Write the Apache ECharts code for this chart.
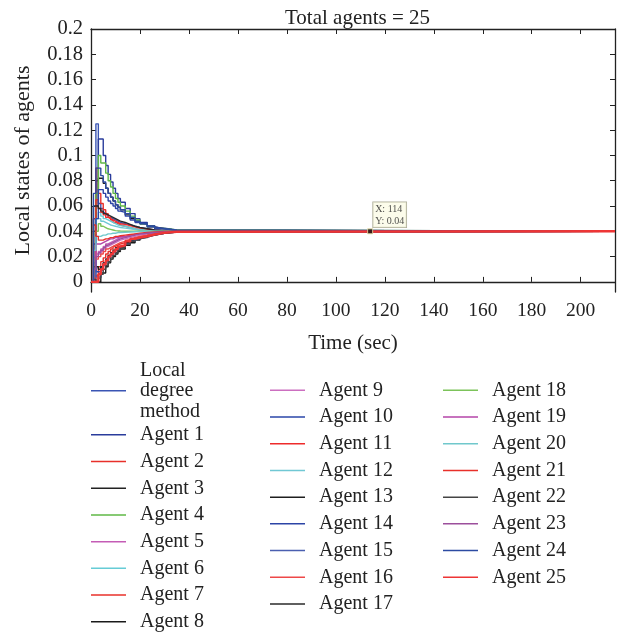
<!DOCTYPE html>
<html>
<head>
<meta charset="utf-8">
<script src="https://cdn.jsdelivr.net/npm/echarts@6/dist/echarts.min.js"></script>
<style>html,body{margin:0;padding:0;background:#fff;}#c{width:621px;height:635px;}</style>
</head>
<body>
<div id="c"></div>
<script>
// ---- data ----
const times = [0, 1, 2, 3, 4, 5, 6, 7, 8, 9, 10, 11, 12, 14, 16, 18, 20, 23, 26, 30, 35, 214];
const localDegree = [0, 0, 0.125, 0.062, 0.058, 0.055, 0.053, 0.051, 0.05, 0.049, 0.048, 0.047, 0.046, 0.045, 0.044, 0.043, 0.042, 0.041, 0.0405, 0.0402, 0.04, 0.04];
const agent1  = [0, 0.05, 0.08, 0.113, 0.113, 0.1, 0.092, 0.085, 0.079, 0.074, 0.07, 0.066, 0.063, 0.058, 0.054, 0.05, 0.047, 0.0445, 0.0425, 0.041, 0.04, 0.04];
const agent2  = [0, 0.03, 0.09, 0.07, 0.062, 0.057, 0.054, 0.051, 0.049, 0.047, 0.046, 0.045, 0.044, 0.043, 0.042, 0.0412, 0.0406, 0.0402, 0.04, 0.04, 0.04, 0.04];
const agent3  = [0, 0.04, 0.06, 0.082, 0.082, 0.078, 0.074, 0.07, 0.067, 0.064, 0.061, 0.059, 0.057, 0.053, 0.05, 0.048, 0.046, 0.0435, 0.042, 0.0408, 0.04, 0.04];
const agent4  = [0, 0.045, 0.07, 0.1, 0.094, 0.094, 0.086, 0.08, 0.075, 0.07, 0.066, 0.063, 0.06, 0.056, 0.052, 0.049, 0.046, 0.0438, 0.0422, 0.041, 0.04, 0.04];
const agent5  = [0, 0.015, 0.02, 0.024, 0.026, 0.028, 0.03, 0.031, 0.032, 0.033, 0.034, 0.035, 0.0355, 0.0365, 0.0375, 0.038, 0.0385, 0.039, 0.0395, 0.0398, 0.04, 0.04];
const agent6  = [0, 0.03, 0.05, 0.055, 0.052, 0.05, 0.049, 0.048, 0.047, 0.046, 0.045, 0.0445, 0.044, 0.043, 0.042, 0.0415, 0.041, 0.0405, 0.0402, 0.04, 0.04, 0.04];
const agent7  = [0, 0, 0.005, 0.012, 0.016, 0.019, 0.022, 0.024, 0.026, 0.028, 0.029, 0.03, 0.031, 0.033, 0.0345, 0.0358, 0.0368, 0.038, 0.039, 0.0396, 0.04, 0.04];
const agent8  = [0, 0, 0, 0, 0.007, 0.007, 0.012, 0.015, 0.018, 0.02, 0.022, 0.024, 0.026, 0.029, 0.031, 0.033, 0.035, 0.037, 0.0385, 0.0395, 0.04, 0.04];
const agent9  = [0, 0.03, 0.022, 0.022, 0.024, 0.026, 0.028, 0.029, 0.03, 0.031, 0.032, 0.033, 0.034, 0.035, 0.036, 0.037, 0.038, 0.0388, 0.0394, 0.0398, 0.04, 0.04];
const agent10 = [0, 0.02, 0.008, 0.008, 0.012, 0.015, 0.018, 0.02, 0.022, 0.024, 0.026, 0.027, 0.028, 0.031, 0.033, 0.0345, 0.036, 0.0375, 0.0388, 0.0396, 0.04, 0.04];
const agent11 = [0, 0.05, 0.065, 0.058, 0.055, 0.053, 0.051, 0.05, 0.049, 0.048, 0.047, 0.046, 0.0455, 0.0445, 0.0435, 0.0425, 0.0418, 0.041, 0.0404, 0.0401, 0.04, 0.04];
const agent12 = [0, 0.045, 0.05, 0.05, 0.048, 0.047, 0.046, 0.045, 0.0445, 0.044, 0.0435, 0.043, 0.0425, 0.042, 0.0413, 0.0408, 0.0405, 0.0402, 0.04, 0.04, 0.04, 0.04];
const agent13 = [0, 0.012, 0.012, 0.01, 0.012, 0.015, 0.018, 0.021, 0.023, 0.025, 0.027, 0.028, 0.029, 0.031, 0.033, 0.035, 0.036, 0.0375, 0.0388, 0.0396, 0.04, 0.04];
const agent14 = [0, 0.03, 0.05, 0.073, 0.073, 0.07, 0.067, 0.064, 0.062, 0.06, 0.058, 0.056, 0.055, 0.052, 0.049, 0.047, 0.0455, 0.0435, 0.042, 0.0408, 0.04, 0.04];
const agent15 = [0, 0.015, 0.004, 0.004, 0.009, 0.013, 0.016, 0.019, 0.021, 0.023, 0.025, 0.026, 0.028, 0.03, 0.032, 0.034, 0.0355, 0.037, 0.0385, 0.0395, 0.04, 0.04];
const agent16 = [0, 0.025, 0.018, 0.02, 0.022, 0.024, 0.026, 0.027, 0.028, 0.029, 0.03, 0.031, 0.032, 0.0335, 0.035, 0.036, 0.037, 0.038, 0.039, 0.0396, 0.04, 0.04];
const agent17 = [0, 0.06, 0.06, 0.058, 0.056, 0.054, 0.053, 0.052, 0.051, 0.05, 0.049, 0.048, 0.047, 0.0455, 0.044, 0.043, 0.042, 0.041, 0.0404, 0.0401, 0.04, 0.04];
const agent18 = [0, 0.038, 0.04, 0.046, 0.044, 0.043, 0.042, 0.0415, 0.041, 0.0405, 0.0403, 0.0402, 0.0401, 0.04, 0.04, 0.04, 0.04, 0.04, 0.04, 0.04, 0.04, 0.04];
const agent19 = [0, 0.02, 0.03, 0.03, 0.031, 0.032, 0.033, 0.034, 0.034, 0.035, 0.035, 0.036, 0.036, 0.037, 0.0375, 0.038, 0.0385, 0.039, 0.0395, 0.0398, 0.04, 0.04];
const agent20 = [0, 0.025, 0.036, 0.036, 0.037, 0.037, 0.038, 0.038, 0.0385, 0.0385, 0.039, 0.039, 0.0393, 0.0395, 0.0397, 0.0398, 0.04, 0.04, 0.04, 0.04, 0.04, 0.04];
const agent21 = [0, 0.045, 0.036, 0.033, 0.033, 0.034, 0.034, 0.035, 0.035, 0.036, 0.036, 0.0365, 0.037, 0.0375, 0.038, 0.0385, 0.039, 0.0395, 0.0398, 0.04, 0.04, 0.04];
const agent22 = [0, 0.002, 0, 0.003, 0.006, 0.01, 0.013, 0.016, 0.019, 0.021, 0.023, 0.025, 0.027, 0.03, 0.032, 0.034, 0.0355, 0.037, 0.0385, 0.0395, 0.04, 0.04];
const agent23 = [0, 0.01, 0.02, 0.023, 0.025, 0.027, 0.029, 0.03, 0.031, 0.032, 0.033, 0.034, 0.035, 0.036, 0.037, 0.038, 0.0385, 0.039, 0.0395, 0.0398, 0.04, 0.04];
const agent24 = [0, 0.07, 0.09, 0.09, 0.084, 0.079, 0.074, 0.07, 0.067, 0.064, 0.061, 0.059, 0.057, 0.054, 0.051, 0.048, 0.046, 0.044, 0.042, 0.0408, 0.04, 0.04];
const agent25 = [0, 0, 0, 0.006, 0.01, 0.014, 0.017, 0.02, 0.022, 0.024, 0.026, 0.028, 0.029, 0.032, 0.034, 0.035, 0.036, 0.0375, 0.0388, 0.0396, 0.04, 0.04];

const seriesNames = ['Local\ndegree\nmethod', 'Agent 1', 'Agent 2', 'Agent 3', 'Agent 4', 'Agent 5', 'Agent 6', 'Agent 7', 'Agent 8',
  'Agent 9', 'Agent 10', 'Agent 11', 'Agent 12', 'Agent 13', 'Agent 14', 'Agent 15', 'Agent 16', 'Agent 17',
  'Agent 18', 'Agent 19', 'Agent 20', 'Agent 21', 'Agent 22', 'Agent 23', 'Agent 24', 'Agent 25'];
const seriesValues = [localDegree, agent1, agent2, agent3, agent4, agent5, agent6, agent7, agent8, agent9, agent10,
  agent11, agent12, agent13, agent14, agent15, agent16, agent17, agent18, agent19, agent20, agent21, agent22, agent23, agent24, agent25];
const seriesColors = ['#3a55b4', '#2a3c9c', '#e8302a', '#222222', '#5fb846', '#c45cb5', '#66ccd6', '#e8302a', '#1a1a1a',
  '#cc6fc0', '#2a46a8', '#ee2b2b', '#70c8d4', '#1e1e1e', '#2c44a6', '#4a5fb0', '#ee4848', '#2a2a2a',
  '#7cc35a', '#b444a8', '#70c8cc', '#e8302a', '#444444', '#9c4f9c', '#2c4ba2', '#ee3535'];
const xTicks = [0, 20, 40, 60, 80, 100, 120, 140, 160, 180, 200];
const yTicks = [0, 0.02, 0.04, 0.06, 0.08, 0.1, 0.12, 0.14, 0.16, 0.18, 0.2];
const datatip = [114, 0.04];

// ---- chart ----
const FONT = '"Liberation Serif", "DejaVu Serif", serif';
const chart = echarts.init(document.getElementById('c'), null, {renderer: 'canvas'});
const lastIdx = seriesNames.length - 1;

const series = seriesNames.map((name, i) => ({
  name: name,
  type: 'line',
  step: 'end',
  symbol: 'none',
  color: seriesColors[i],
  lineStyle: {width: i === lastIdx ? 2.4 : 1.4, color: seriesColors[i]},
  data: times.map((t, k) => [t, seriesValues[i][k]]),
  animation: false,
  z: i === lastIdx ? 4 : 2
}));
series.push({
  name: 'datatip',
  type: 'scatter',
  symbol: 'rect',
  symbolSize: 5,
  itemStyle: {color: '#111', borderColor: '#e8e0a0', borderWidth: 1},
  data: [datatip],
  z: 6,
  label: {
    show: true,
    formatter: p => 'X: ' + p.value[0] + '\nY: ' + p.value[1],
    position: [6, -26],
    fontFamily: FONT,
    fontSize: 10,
    lineHeight: 12,
    color: '#222',
    backgroundColor: '#fbfbe6',
    borderColor: '#9a9a80',
    borderWidth: 0.8,
    padding: [1, 2, 0, 2]
  },
  animation: false
});

const legendBase = {
  orient: 'vertical',
  icon: 'rect',
  itemWidth: 35,
  itemHeight: 1.5,
  itemGap: 0,
  padding: 0,
  textStyle: {fontFamily: FONT, fontSize: 20, color: '#222', lineHeight: 26.7, padding: [0, 0, 0, 9]},
  selectedMode: false
};

const option = {
  animation: false,
  backgroundColor: '#ffffff',
  title: {
    text: 'Total agents = 25',
    left: 280,
    top: 3,
    textStyle: {fontFamily: FONT, fontSize: 21, fontWeight: 'normal', color: '#222'}
  },
  grid: {left: 91, right: 6, top: 29, bottom: 343, containLabel: false},
  xAxis: [{
    type: 'value', min: 0, max: 214, position: 'bottom',
    name: 'Time (sec)', nameLocation: 'middle', nameGap: 41,
    nameTextStyle: {fontFamily: FONT, fontSize: 21, color: '#222'},
    axisLine: {show: true, lineStyle: {color: '#222', width: 1.3}},
    axisTick: {show: true, inside: true, length: 5, customValues: xTicks, lineStyle: {color: '#222'}},
    axisLabel: {customValues: xTicks, fontFamily: FONT, fontSize: 19.5, color: '#222', margin: 9},
    splitLine: {show: false}
  }, {
    type: 'value', min: 0, max: 214, position: 'top',
    axisLine: {show: true, onZero: false, lineStyle: {color: '#222', width: 1.3}},
    axisTick: {show: true, inside: true, length: 5, customValues: xTicks, lineStyle: {color: '#222'}},
    axisLabel: {show: false},
    splitLine: {show: false}
  }],
  yAxis: [{
    type: 'value', min: -0.008, max: 0.2, position: 'left',
    name: 'Local states of agents', nameLocation: 'middle', nameGap: 57, nameRotate: 90,
    nameTextStyle: {fontFamily: FONT, fontSize: 22, color: '#222'},
    axisLine: {show: true, onZero: false, lineStyle: {color: '#222', width: 1.3}},
    axisTick: {show: true, inside: true, length: 5, customValues: yTicks, lineStyle: {color: '#222'}},
    axisLabel: {customValues: yTicks, fontFamily: FONT, fontSize: 20.5, color: '#222', margin: 8,
      formatter: v => String(+v.toFixed(2))},
    splitLine: {show: false}
  }, {
    type: 'value', min: -0.008, max: 0.2, position: 'right',
    axisLine: {show: true, onZero: false, lineStyle: {color: '#222', width: 1.3}},
    axisTick: {show: true, inside: true, length: 5, customValues: yTicks, lineStyle: {color: '#222'}},
    axisLabel: {show: false},
    splitLine: {show: false}
  }],
  legend: [
    Object.assign({}, legendBase, {
      left: 91, top: 360,
      data: [{name: seriesNames[0], textStyle: {lineHeight: 20.5}}].concat(seriesNames.slice(1, 9))
    }),
    Object.assign({}, legendBase, {left: 270, top: 377, data: seriesNames.slice(9, 18)}),
    Object.assign({}, legendBase, {left: 443, top: 377, data: seriesNames.slice(18, 26)})
  ],
  series: series
};
chart.setOption(option);
</script>
</body>
</html>
